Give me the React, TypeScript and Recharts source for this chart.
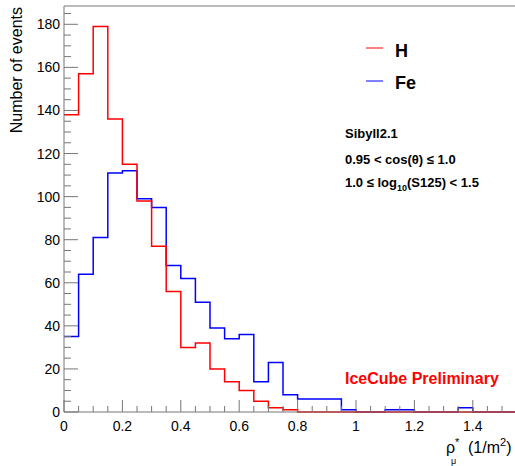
import { LineChart, Line, XAxis, YAxis, ReferenceLine } from "recharts";

// histogram bins, width 0.05 in rho*_mu (1/m^2)
const binLow = [
  0, 0.05, 0.1, 0.15, 0.2, 0.25, 0.3, 0.35, 0.4, 0.45, 0.5, 0.55, 0.6, 0.65, 0.7, 0.75,
  0.8, 0.85, 0.9, 0.95, 1.0, 1.05, 1.1, 1.15, 1.2, 1.25, 1.3, 1.35, 1.4, 1.45, 1.5,
];
const binWidth = 0.05;

const hCounts = [
  138, 157, 179, 136, 115, 98, 77, 56, 30, 32, 20, 14, 10, 5, 2, 1,
  0, 0, 0, 0, 0, 0, 0, 0, 0, 0, 0, 0, 0, 0, 0,
];
const feCounts = [
  35, 64, 81, 111, 112, 99, 95, 68, 62, 51, 39, 34, 36, 14, 23, 8,
  6, 6, 6, 1, 0, 0, 1, 1, 0, 0, 0, 2, 0, 0, 0,
];

const xTicks = binLow;
const yTicks = [
  0, 5, 10, 15, 20, 25, 30, 35, 40, 45, 50, 55, 60, 65, 70, 75, 80, 85, 90, 95,
  100, 105, 110, 115, 120, 125, 130, 135, 140, 145, 150, 155, 160, 165, 170, 175, 180, 185,
];

const X_MAX = 1.5445;
const Y_MAX = 188.5;
const FONT = "'Liberation Sans', Arial, Helvetica, sans-serif";
const AXIS = "#777";

const last = binLow.length - 1;
const data = [
  ...binLow.map((x, i) => ({ x, H: hCounts[i], Fe: feCounts[i] })),
  { x: binLow[last] + binWidth, H: hCounts[last], Fe: feCounts[last] },
];

function xLabel(v: number) {
  const r = Math.round(v * 10) / 10;
  return Number.isInteger(r) ? String(r) : r.toFixed(1);
}

function XTick(props: any) {
  const { x, y, payload } = props;
  const major = Math.round(payload.value * 100) % 20 === 0;
  return (
    <g>
      <line x1={x} y1={y} x2={x} y2={y - (major ? 12 : 6)} stroke={AXIS} />
      {major && (
        <text x={x} y={y + 18.5} textAnchor="middle" fontSize={14} fontFamily={FONT} fill="#000">
          {xLabel(payload.value)}
        </text>
      )}
    </g>
  );
}

function YTick(props: any) {
  const { x, y, payload } = props;
  const major = payload.value % 20 === 0;
  return (
    <g>
      <line x1={x} y1={y} x2={x + (major ? 14 : 7)} y2={y} stroke={AXIS} />
      {major && (
        <text x={x - 4} y={y + 5} textAnchor="end" fontSize={14} fontFamily={FONT} fill="#000">
          {payload.value}
        </text>
      )}
    </g>
  );
}

export default function App() {
  return (
    <div style={{ position: "fixed", left: 0, top: 0, width: 515, height: 466, background: "#fff" }}>
      <LineChart
        width={515}
        height={466}
        data={data}
        margin={{ top: 6, right: 0, left: 0, bottom: 0 }}
      >
        <XAxis
          dataKey="x"
          type="number"
          domain={[0, X_MAX]}
          allowDataOverflow
          ticks={xTicks}
          interval={0}
          tick={<XTick />}
          tickLine={false}
          tickSize={0}
          tickMargin={0}
          height={54}
          axisLine={{ stroke: AXIS }}
        />
        <YAxis
          type="number"
          domain={[0, Y_MAX]}
          ticks={yTicks}
          interval={0}
          tick={<YTick />}
          tickLine={false}
          tickSize={0}
          tickMargin={0}
          width={64}
          axisLine={{ stroke: AXIS }}
        />
        <ReferenceLine y={Y_MAX} stroke={AXIS} />
        <Line
          type="stepAfter"
          dataKey="Fe"
          stroke="#0000ff"
          strokeWidth={1.5}
          dot={false}
          isAnimationActive={false}
        />
        <Line
          type="stepAfter"
          dataKey="H"
          stroke="#ff0000"
          strokeWidth={1.5}
          dot={false}
          isAnimationActive={false}
        />
      </LineChart>
      <svg
        width={515}
        height={466}
        style={{ position: "absolute", left: 0, top: 0, pointerEvents: "none" }}
        fontFamily={FONT}
      >
        {/* legend */}
        <line x1={366} y1={48} x2={383} y2={48} stroke="#ff0000" />
        <text x={395} y={57} fontSize={18} fontWeight="bold">H</text>
        <line x1={366} y1={81} x2={383} y2={81} stroke="#0000ff" />
        <text x={395} y={89} fontSize={18} fontWeight="bold">Fe</text>

        <text x={345} y={138} fontSize={13} fontWeight="bold">Sibyll2.1</text>
        <text x={345} y={164} fontSize={13} fontWeight="bold">0.95 &lt; cos(θ) ≤ 1.0</text>
        <text x={345} y={186.5} fontSize={13} fontWeight="bold">
          1.0 ≤ log
          <tspan fontSize={9} dy={4}>10</tspan>
          <tspan dy={-4}>(S125) &lt; 1.5</tspan>
        </text>

        <text x={345} y={384} fontSize={16} fontWeight="bold" fill="#ff0000">IceCube Preliminary</text>

        <text
          x={22}
          y={7}
          transform="rotate(-90 22 7)"
          fontSize={16}
          textAnchor="end"
        >
          Number of events
        </text>

        <text x={446} y={453} fontSize={16}>ρ</text>
        <text x={455} y={446} fontSize={11}>*</text>
        <text x={451} y={464} fontSize={9}>μ</text>
        <text x={468} y={453} fontSize={16}>
          (1/m
          <tspan fontSize={11} dy={-7}>2</tspan>
          <tspan dy={7}>)</tspan>
        </text>
      </svg>
    </div>
  );
}
